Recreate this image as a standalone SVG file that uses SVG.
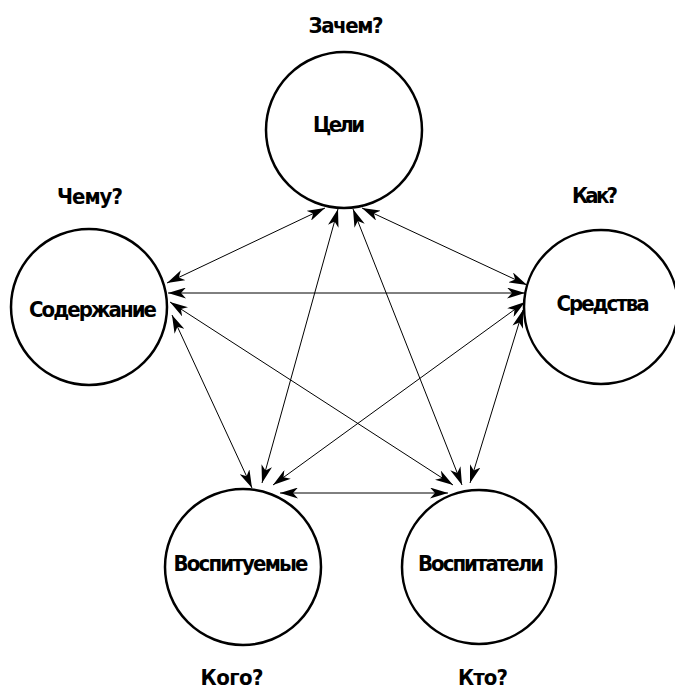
<svg xmlns="http://www.w3.org/2000/svg" width="675" height="690" viewBox="0 0 675 690">
<defs>
<marker id="ah" viewBox="0 0 18 11" refX="18" refY="5.5" markerWidth="18" markerHeight="11" markerUnits="userSpaceOnUse" orient="auto-start-reverse">
<path d="M0,0 L18,5.5 L0,11 L5,5.5 z" fill="#000"/>
</marker>
<style>
.node circle{fill:#fff;stroke:#000;stroke-width:2.5}
text{font-family:"DejaVu Sans Condensed","DejaVu Sans",sans-serif;font-stretch:condensed;font-weight:bold;font-size:22px;fill:#000;text-anchor:middle}
.conn line{stroke:#000;stroke-width:1;marker-start:url(#ah);marker-end:url(#ah)}
</style>
</defs>
<rect width="675" height="690" fill="#fff"/>
<g class="conn" id="connectors">
<line x1="325" y1="208" x2="167" y2="283"/>
<line x1="362" y1="208" x2="527" y2="285"/>
<line x1="338" y1="209" x2="262" y2="483"/>
<line x1="353" y1="209" x2="462" y2="485"/>
<line x1="168" y1="293" x2="525" y2="293"/>
<line x1="170" y1="302" x2="453" y2="485"/>
<line x1="172" y1="315" x2="252" y2="488"/>
<line x1="525" y1="302" x2="273" y2="485"/>
<line x1="523" y1="310" x2="470" y2="483"/>
<line x1="280" y1="493" x2="448" y2="493"/>
</g>
<g class="node" id="node-goals">
<circle cx="344" cy="130" r="78"/>
<text x="339" y="132" textLength="52">Цели</text>
<text x="346" y="33" textLength="75">Зачем?</text>
</g>
<g class="node" id="node-content">
<circle cx="89" cy="307" r="78"/>
<text x="93" y="317" textLength="128">Содержание</text>
<text x="90" y="204" textLength="66">Чему?</text>
</g>
<g class="node" id="node-means">
<circle cx="601" cy="307" r="77"/>
<text x="603" y="311" textLength="93">Средства</text>
<text x="595" y="203" textLength="46">Как?</text>
</g>
<g class="node" id="node-pupils">
<circle cx="243" cy="567" r="78"/>
<text x="241" y="571" textLength="135">Воспитуемые</text>
<text x="232" y="685" textLength="63">Кого?</text>
</g>
<g class="node" id="node-educators">
<circle cx="479" cy="567" r="77"/>
<text x="481" y="571" textLength="126">Воспитатели</text>
<text x="483" y="685" textLength="50">Кто?</text>
</g>
</svg>
